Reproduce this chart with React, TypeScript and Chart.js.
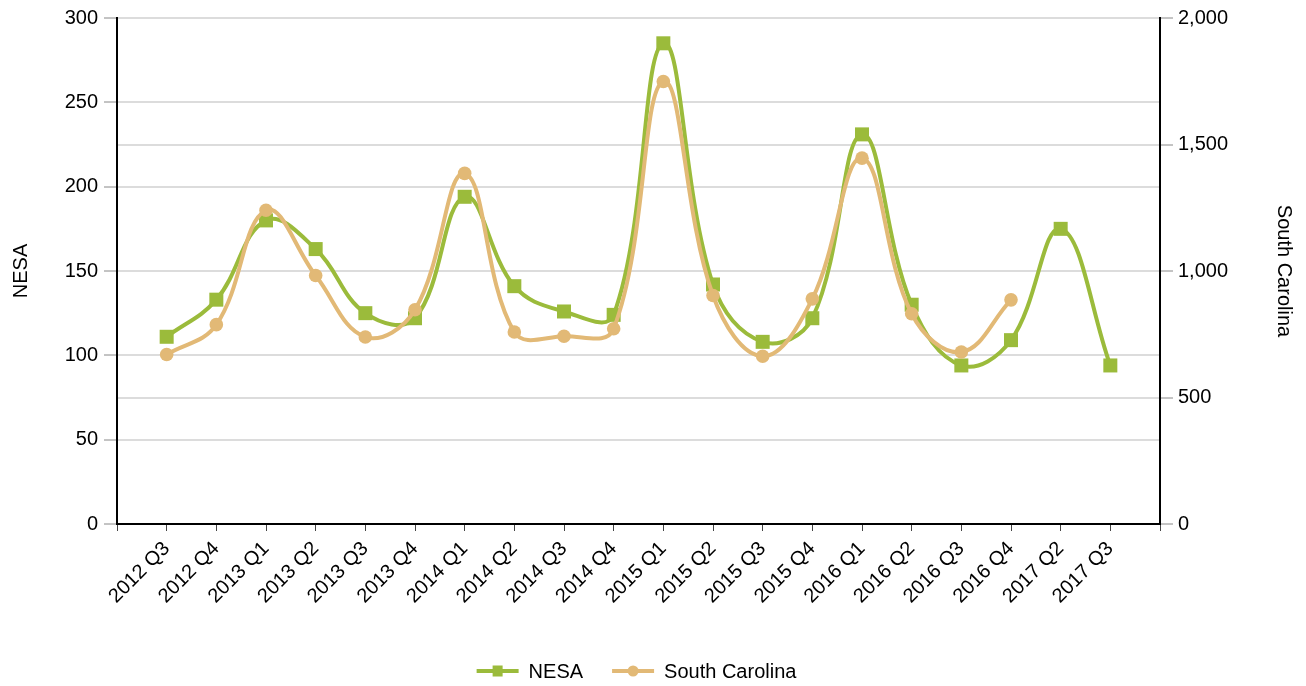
import { useEffect, useRef } from 'react';
import { Chart, registerables } from 'chart.js';

Chart.register(...registerables);

const FONT = '"Liberation Sans", Arial, Helvetica, sans-serif';

const categories = [
  '2012 Q3', '2012 Q4', '2013 Q1', '2013 Q2', '2013 Q3', '2013 Q4',
  '2014 Q1', '2014 Q2', '2014 Q3', '2014 Q4', '2015 Q1', '2015 Q2',
  '2015 Q3', '2015 Q4', '2016 Q1', '2016 Q2', '2016 Q3', '2016 Q4',
  '2017 Q2', '2017 Q3',
];

const nesaValues = [
  111, 133, 180, 163, 125, 122, 194, 141, 126, 124, 285, 142, 108, 122, 231,
  130, 94, 109, 175, 94,
];

const southCarolinaValues: (number | null)[] = [
  670, 788, 1240, 982, 739, 847, 1386, 759, 742, 772, 1749, 903, 663, 890,
  1446, 831, 680, 886, null, null,
];

const leftAxisMax = 300;
const leftAxisStep = 50;
const rightAxisMax = 2000;
const rightAxisStep = 500;

const GREEN = 'rgb(155,187,59)';
const TAN = 'rgb(226,185,118)';

const legendPlugin = {
  id: 'lineLegend',
  afterDraw(chart: any) {
    const ctx = chart.ctx;
    const items = chart.data.datasets.map((ds: any) => ({
      label: ds.label,
      color: ds.borderColor,
      style: ds.pointStyle,
    }));
    ctx.save();
    ctx.font = `20px ${FONT}`;
    const lineLen = 42;
    const textGap = 10;
    const itemGap = 29;
    const widths = items.map(
      (it: any) => lineLen + textGap + ctx.measureText(it.label).width
    );
    const total =
      widths.reduce((a: number, b: number) => a + b, 0) +
      itemGap * (items.length - 1);
    let x = (chart.chartArea.left + chart.chartArea.right) / 2 - total / 2 - 2;
    const y = chart.height - 15;
    items.forEach((it: any, i: number) => {
      ctx.strokeStyle = it.color;
      ctx.lineWidth = 4;
      ctx.beginPath();
      ctx.moveTo(x, y);
      ctx.lineTo(x + lineLen, y);
      ctx.stroke();
      ctx.fillStyle = it.color;
      if (it.style === 'rect') {
        ctx.fillRect(x + lineLen / 2 - 5, y - 5.5, 10, 11);
      } else {
        ctx.beginPath();
        ctx.arc(x + lineLen / 2, y, 5.5, 0, Math.PI * 2);
        ctx.fill();
      }
      ctx.fillStyle = '#000';
      ctx.textBaseline = 'middle';
      ctx.textAlign = 'left';
      ctx.fillText(it.label, x + lineLen + textGap, y + 1);
      x += widths[i] + itemGap;
    });
    ctx.restore();
  },
};

export default function App() {
  const canvasRef = useRef<HTMLCanvasElement | null>(null);

  useEffect(() => {
    if (!canvasRef.current) return;
    Chart.defaults.font.family = FONT;
    Chart.defaults.color = '#000';

    const nesaPoints = nesaValues.map((v, i) => ({ x: i, y: v }));
    const scPoints = southCarolinaValues.map((v, i) => ({ x: i, y: v }));

    const chart = new Chart(canvasRef.current, {
      type: 'line',
      data: {
        datasets: [
          {
            label: 'NESA',
            data: nesaPoints as any,
            yAxisID: 'y',
            borderColor: GREEN,
            backgroundColor: GREEN,
            borderWidth: 4,
            pointStyle: 'rect',
            pointRadius: 9.9,
            pointBorderWidth: 0,
            pointBackgroundColor: GREEN,
            tension: 0.4,
            fill: false,
            order: 1,
          },
          {
            label: 'South Carolina',
            data: scPoints as any,
            yAxisID: 'y1',
            borderColor: TAN,
            backgroundColor: TAN,
            borderWidth: 4,
            pointStyle: 'circle',
            pointRadius: 6.8,
            pointBorderWidth: 0,
            pointBackgroundColor: TAN,
            tension: 0.4,
            fill: false,
            spanGaps: false,
            order: 0,
          },
        ],
      },
      options: {
        responsive: false,
        animation: false,
        layout: { padding: { top: 17, left: 0, right: 0, bottom: 0 } },
        plugins: {
          legend: { display: false },
          tooltip: { enabled: false },
        },
        scales: {
          x: {
            type: 'linear',
            min: -1,
            max: categories.length,
            afterFit: (scale: any) => {
              scale.height = 162;
            },
            afterBuildTicks: (scale: any) => {
              const t = [];
              for (let i = -1; i <= categories.length; i++) t.push({ value: i });
              scale.ticks = t;
            },
            ticks: {
              stepSize: 1,
              autoSkip: false,
              minRotation: 45,
              maxRotation: 45,
              padding: 6,
              font: { size: 20, family: FONT },
              color: '#000',
              callback: (v: any) => categories[Number(v)] ?? '',
            },
            grid: {
              drawOnChartArea: false,
              drawTicks: true,
              tickLength: 7,
              tickColor: '#444',
              tickWidth: 1,
            },
            border: { color: '#000', width: 2 },
          },
          y: {
            type: 'linear',
            position: 'left',
            min: 0,
            max: leftAxisMax,
            afterFit: (scale: any) => {
              scale.width = 117;
            },
            ticks: {
              stepSize: leftAxisStep,
              padding: 6,
              font: { size: 20, family: FONT },
              color: '#000',
            },
            grid: {
              color: '#dcdcdc',
              lineWidth: 2,
              tickColor: '#888',
              tickLength: 13,
              tickWidth: 1,
            },
            border: { color: '#000', width: 2 },
            title: {
              display: true,
              text: 'NESA',
              font: { size: 20, family: FONT },
              color: '#000',
              padding: { top: 9, bottom: 0 },
            },
          },
          y1: {
            type: 'linear',
            position: 'right',
            min: 0,
            max: rightAxisMax,
            afterFit: (scale: any) => {
              scale.width = 146;
            },
            ticks: {
              stepSize: rightAxisStep,
              padding: 5,
              font: { size: 20, family: FONT },
              color: '#000',
              callback: (v: any) => Number(v).toLocaleString('en-US'),
            },
            grid: {
              color: '#dcdcdc',
              lineWidth: 2,
              tickColor: '#888',
              tickLength: 13,
              tickWidth: 1,
            },
            border: { color: '#000', width: 2 },
            title: {
              display: true,
              text: 'South Carolina',
              font: { size: 20, family: FONT },
              color: '#000',
              padding: { top: 10, bottom: 0 },
            },
          },
        },
      },
      plugins: [legendPlugin],
    });

    return () => chart.destroy();
  }, []);

  return (
    <div
      style={{
        position: 'absolute',
        left: 0,
        top: 0,
        width: '1306px',
        height: '686px',
        background: '#fff',
      }}
    >
      <canvas ref={canvasRef} width={1306} height={686} />
    </div>
  );
}
